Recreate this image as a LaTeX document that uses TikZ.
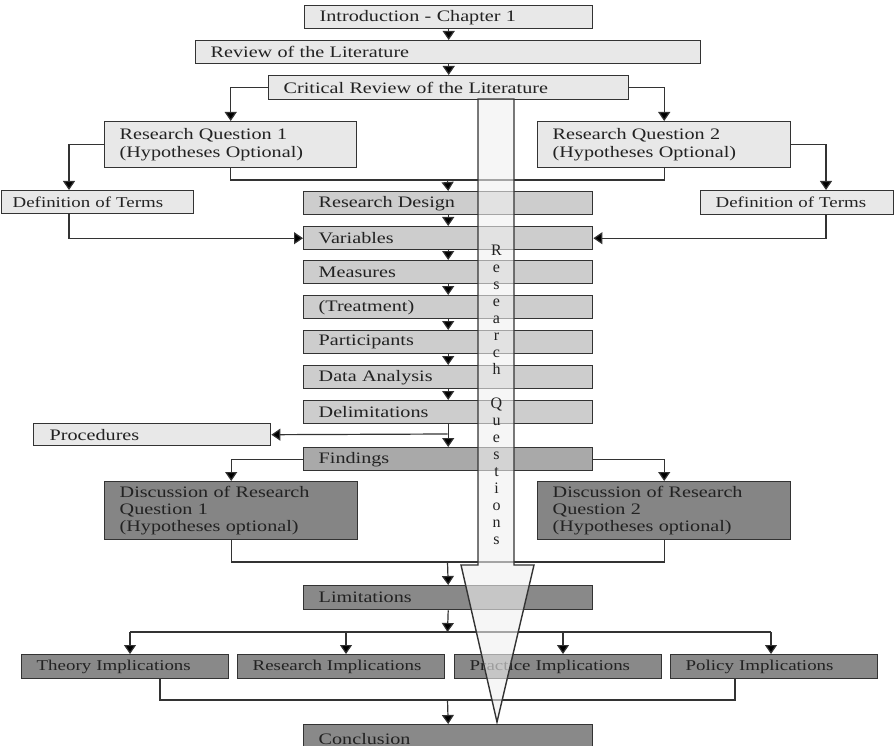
\documentclass[tikz,border=0pt]{standalone}
\usepackage{fontspec}
\setmainfont{Liberation Serif}[FakeStretch=1.26]
\newfontfamily\plainserif{Liberation Serif}
\usetikzlibrary{arrows.meta}
\definecolor{lightbox}{HTML}{E8E8E8}
\definecolor{midbox}{HTML}{CDCDCD}
\definecolor{findbox}{HTML}{A9A9A9}
\definecolor{darkbox}{HTML}{898989}
\definecolor{discbox}{HTML}{858585}
\definecolor{edge}{HTML}{333333}
\definecolor{txt}{HTML}{222222}
\definecolor{bigarrow}{HTML}{F0F0F0}
\tikzset{
  box/.style={draw=edge, line width=1.4pt, anchor=north west, inner xsep=15pt, inner ysep=0pt,
    align=left, text=txt, font=\fontsize{16}{17}\selectfont},
  smallbox/.style={box, font=\fontsize{15}{17}\selectfont},
  conn/.style={draw=edge, line width=1.2pt},
  arr/.style={conn, -{Triangle[width=12pt,length=9pt,fill=black]}},
}
\begin{document}
\begin{tikzpicture}[x=1pt,y=-1pt]
\useasboundingbox (0,0) rectangle (894,746);
\clip (0,0) rectangle (894,746);
% top boxes
\node[box, fill=lightbox, text width=258pt, minimum height=23pt] (intro) at (304,5) {Introduction - Chapter 1};
\node[box, fill=lightbox, text width=475pt, minimum height=23pt] (review) at (195,40) {Review of the Literature};
\node[box, fill=lightbox, text width=330pt, minimum height=24pt] (crit) at (268,75) {Critical Review of the Literature};
\node[box, fill=lightbox, text width=222pt, minimum height=46pt] (rq1) at (104,121) {Research Question 1\\[1pt](Hypotheses Optional)};
\node[box, fill=lightbox, text width=223pt, minimum height=46pt] (rq2) at (537,121) {Research Question 2\\[1pt](Hypotheses Optional)};
\node[smallbox, fill=lightbox, text width=170pt, minimum height=23pt, inner xsep=11pt] (defl) at (1,190) {Definition of Terms};
\node[smallbox, fill=lightbox, text width=163pt, minimum height=24pt] (defr) at (700,190) {Definition of Terms};
% middle chain
\node[box, fill=midbox, text width=259pt, minimum height=23pt] (rd) at (303,191) {Research Design};
\node[box, fill=midbox, text width=259pt, minimum height=23pt] (var) at (303,226) {Variables};
\node[box, fill=midbox, text width=259pt, minimum height=23pt] (meas) at (303,260) {Measures};
\node[box, fill=midbox, text width=259pt, minimum height=23pt] (treat) at (303,295) {(Treatment)};
\node[box, fill=midbox, text width=259pt, minimum height=23pt] (part) at (303,330) {Participants};
\node[box, fill=midbox, text width=259pt, minimum height=23pt] (data) at (303,365) {Data Analysis};
\node[box, fill=midbox, text width=259pt, minimum height=23pt] (delim) at (303,400) {Delimitations};
\node[box, fill=lightbox, text width=205pt, minimum height=22pt, inner xsep=16pt] (proc) at (33,423) {Procedures};
\node[box, fill=findbox, text width=259pt, minimum height=23pt] (find) at (303,447) {Findings};
\node[box, fill=discbox, text width=223pt, minimum height=58pt] (disc1) at (104,481) {Discussion of Research\\Question 1\\(Hypotheses optional)};
\node[box, fill=discbox, text width=223pt, minimum height=58pt] (disc2) at (537,481) {Discussion of Research\\Question 2\\(Hypotheses optional)};
\node[box, fill=darkbox, text width=259pt, minimum height=24pt] (lim) at (303,585) {Limitations};
\node[smallbox, fill=darkbox, text width=177pt, minimum height=24pt] (theory) at (21,654) {Theory Implications};
\node[smallbox, fill=darkbox, text width=177pt, minimum height=24pt] (resimp) at (237,654) {Research Implications};
\node[smallbox, fill=darkbox, text width=177pt, minimum height=24pt] (pract) at (454,654) {Practice Implications};
\node[smallbox, fill=darkbox, text width=177pt, minimum height=24pt] (policy) at (670,654) {Policy Implications};
\node[box, fill=darkbox, text width=259pt, minimum height=40pt, text depth=0pt] (concl) at (303,724) {\raisebox{12.5pt}{Conclusion}};
% junction coordinates
\coordinate (jt) at (447.5,180);
\coordinate (jp) at (447.5,434);
\coordinate (jl) at (447.5,562);
\coordinate (jm) at (447.5,632);
\coordinate (jc) at (447.5,700);
% connectors
\draw[arr] (intro.south) -- (review.north -| intro.south);
\draw[arr] (review.south -| intro.south) -- (crit.north -| intro.south);
\draw[arr] (crit.west) -| (rq1.north);
\draw[arr] (crit.east) -| (rq2.north);
\draw[conn] (rq1.south) |- (jt);
\draw[conn] (rq2.south) |- (jt);
\draw[arr] (jt) -- (rd.north);
\draw[arr] (rq1.west) -| ([xshift=68pt]defl.north west);
\draw[arr] (rq2.east) -| ([xshift=126pt]defr.north west);
\draw[arr] ([xshift=68pt]defl.south west) |- (var.west);
\draw[arr] ([xshift=126pt]defr.south west) |- (var.east);
\draw[arr] (rd.south) -- (var.north);
\draw[arr] (var.south) -- (meas.north);
\draw[arr] (meas.south) -- (treat.north);
\draw[arr] (treat.south) -- (part.north);
\draw[arr] (part.south) -- (data.north);
\draw[arr] (data.south) -- (delim.north);
\draw[arr] (delim.south) -- (find.north);
\draw[arr] (jp) -- (proc.east);
\draw[arr] (find.west) -| (disc1.north);
\draw[arr] (find.east) -| (disc2.north);
\draw[conn] (disc1.south) |- (jl);
\draw[conn] (disc2.south) |- (jl);
\draw[arr] (jl) -- (lim.north);
\draw[arr] (lim.south) -- (jm);
\coordinate (ta) at ([xshift=109pt]theory.north west);
\coordinate (ra) at ([xshift=109pt]resimp.north west);
\coordinate (pa) at ([xshift=109pt]pract.north west);
\coordinate (qa) at ([xshift=101pt]policy.north west);
\draw[conn] (ta |- jm) -- (qa |- jm);
\draw[arr] (ta |- jm) -- (ta);
\draw[arr] (ra |- jm) -- (ra);
\draw[arr] (pa |- jm) -- (pa);
\draw[arr] (qa |- jm) -- (qa);
\draw[conn] ([xshift=139pt]theory.south west) |- (jc);
\draw[conn] ([xshift=65pt]policy.south west) |- (jc);
\draw[arr] (jc) -- (concl.north);
% big "Research Questions" arrow
\draw[draw=edge, line width=1.4pt, fill=bigarrow, fill opacity=0.6, line join=miter]
  (478,99) -- (478,565) -- (461,565) -- (497,722) -- (534,565) -- (514,565) -- (514,99) -- cycle;
\node[text=txt, align=center, font=\plainserif\fontsize{16}{17}\selectfont, inner sep=0pt] (rqlabel) at (496.5,395)
  {R\\e\\s\\e\\a\\r\\c\\h\\[17pt]Q\\u\\e\\s\\t\\i\\o\\n\\s};
\end{tikzpicture}
\end{document}
